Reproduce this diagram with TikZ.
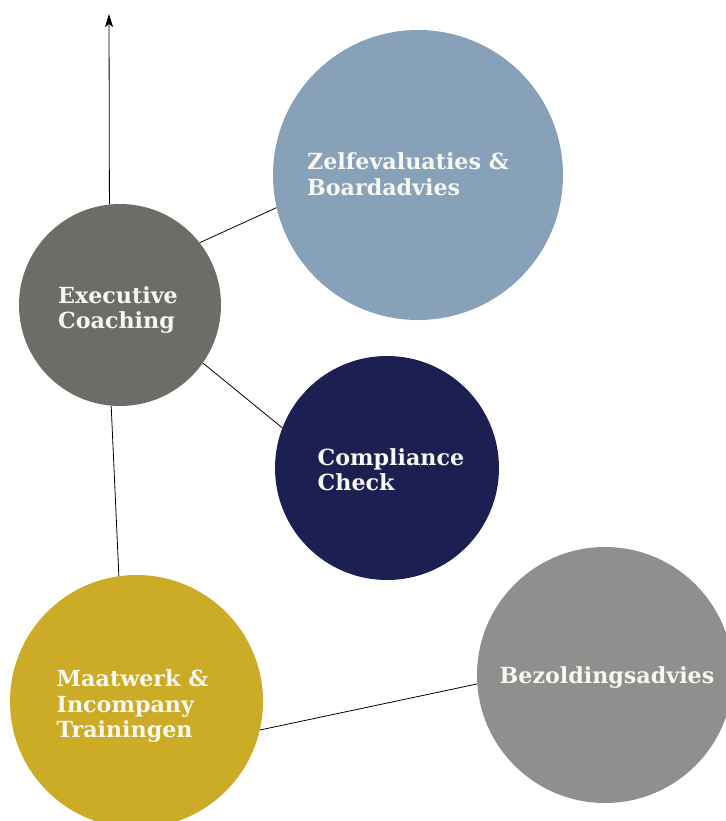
\documentclass[tikz,border=0pt]{standalone}
\usepackage{fontspec}
\setmainfont{DejaVu Serif}
\usetikzlibrary{arrows.meta}
\definecolor{cexec}{HTML}{6D6D68}
\definecolor{czelf}{HTML}{87A1B9}
\definecolor{ccomp}{HTML}{1C1F52}
\definecolor{cmaat}{HTML}{CCAB26}
\definecolor{cbez}{HTML}{918F8E}
\definecolor{ctext}{HTML}{F8F8F2}
\tikzset{
  bubble/.style={circle, inner sep=0pt, minimum size=#1},
  caption/.style={inner sep=0pt, text=ctext,
    font=\fontsize{22.2}{25.5}\selectfont\bfseries, align=left},
  link/.style={draw=black, line width=0.8pt},
}
\begin{document}
\begin{tikzpicture}[x=1pt,y=-1pt]
\useasboundingbox (0,0) rectangle (725,821);
\node[bubble=202pt, fill=cexec] (exec) at (120,305) {};
\node[bubble=290pt, fill=czelf] (zelf) at (418,175) {};
\node[bubble=224pt, fill=ccomp] (comp) at (387,468) {};
\node[bubble=253pt, fill=cmaat] (maat) at (136.5,701.5) {};
\node[bubble=256pt, fill=cbez] (bez) at (605,675) {};
\node[caption, xshift=-2pt, yshift=-5pt] (execT) at (exec.center) {Executive\\Coaching};
\node[caption, xshift=-10pt, yshift=1pt] (zelfT) at (zelf.center) {Zelfevaluaties \&\\Boardadvies};
\node[caption, xshift=4pt, yshift=-1.5pt] (compT) at (comp.center) {Compliance\\Check};
\node[caption, xshift=-4pt, yshift=-5pt] (maatT) at (maat.center) {Maatwerk \&\\Incompany\\Trainingen};
\node[caption, xshift=2pt, yshift=-3pt] (bezT) at (bez.center) {Bezoldingsadvies};
\coordinate (top) at (109,14);
\draw[link, -{Stealth[length=13pt,width=8pt,inset=3pt]}] (exec.96.2) -- (top);
\draw[link] (exec.38.6) -- (zelf.193.6);
\draw[link] (exec.-35.4) -- (comp.159);
\draw[link] (exec.-95) -- (maat.98.8);
\draw[link] (maat.-13) -- (bez.184);
\end{tikzpicture}
\end{document}
